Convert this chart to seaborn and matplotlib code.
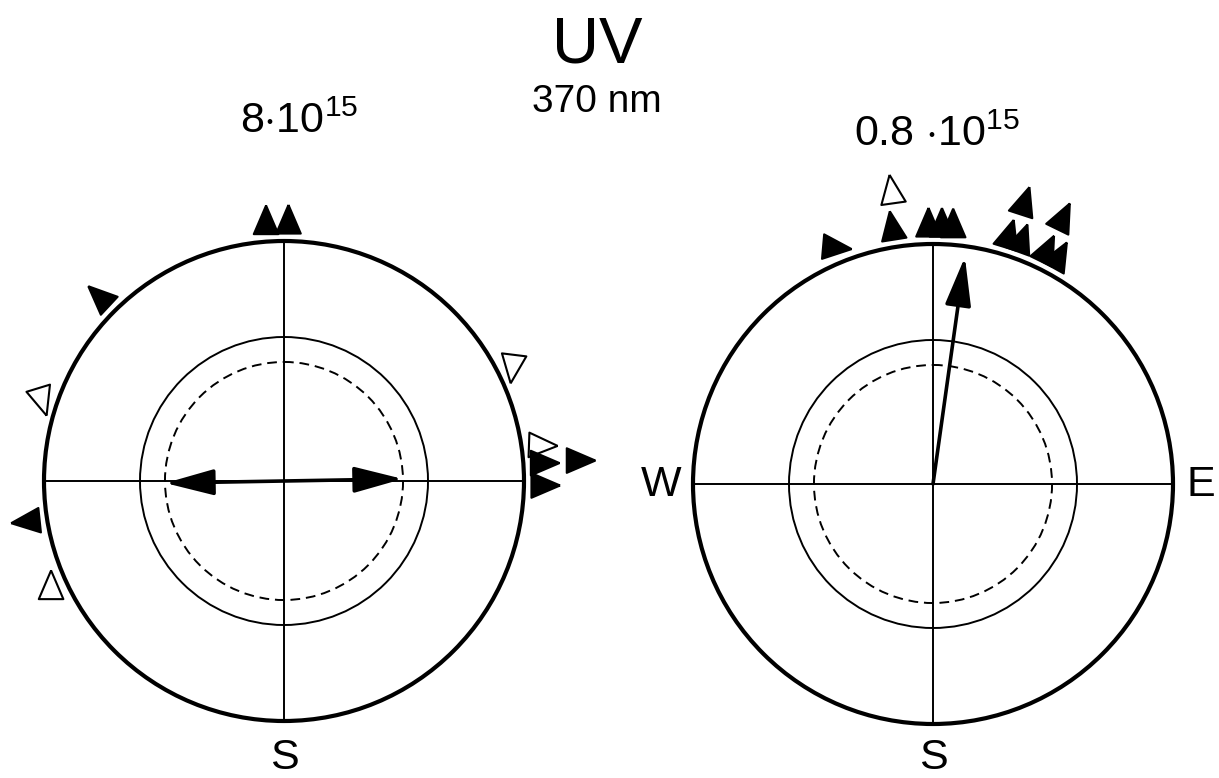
import numpy as np
import pandas as pd
import matplotlib.pyplot as plt
import seaborn as sns
from matplotlib.markers import MarkerStyle
from matplotlib.patches import Circle, FancyArrowPatch

# single headings, degrees clockwise from north
left_bearing = [356, 1, 315, 289, 261, 245, 63, 82, 86, 91, 86]
left_stack = [0, 0, 0, 0, 0, 0, 0, 0, 0, 0, 1]
left_kind = ['filled', 'filled', 'filled', 'open', 'filled', 'open',
             'open', 'open', 'filled', 'filled', 'filled']
left_point = [0, 0, 313, 163, 264, 0, 187, 92, 90, 90, 90]

right_bearing = [337, 352, 351, 359, 2, 4.5, 18, 26, 17, 20, 26, 29]
right_stack = [0, 1, 0, 0, 0, 0, 1, 1, 0, 0, 0, 0]
right_kind = ['filled', 'open'] + ['filled'] * 10
right_point = [95, 352, 351, 0, 0, 0, 18, 26, 17, 20, 26, 29]

# mean vectors: bearing, length relative to outer circle
left_mean = (89, 0.495)   # axial, drawn both ways
right_mean = (8, 0.955)

titles = [r'$\mathrm{8{\cdot}10^{15}}$', r'$\mathrm{0.8\ {\cdot}10^{15}}$']

sns.set_style('white')
plt.rcParams['font.family'] = ['Liberation Sans', 'DejaVu Sans']
plt.rcParams['text.color'] = 'black'
plt.rcParams['mathtext.fontset'] = 'custom'
plt.rcParams['mathtext.rm'] = 'Liberation Sans'
plt.rcParams['mathtext.it'] = 'Liberation Sans:italic'

R = 240
centers = [(284, 481), (933, 484)]

fig = plt.figure(figsize=(12.19, 7.78), dpi=100)
ax = fig.add_axes([0, 0, 1, 1])

# isosceles triangle pointing up, centroid at origin
tri = [(0, 18.7), (-12, -9.3), (12, -9.3), (0, 18.7)]


def polar_xy(c, b, r):
    b = np.radians(b)
    return c[0] + r * np.sin(b), c[1] - r * np.cos(b)


def draw_diagram(c, bearing, stack, kind, point, mean, axial):
    cx, cy = c
    ax.add_patch(Circle(c, R, fill=False, lw=3, ec='black'))
    ax.add_patch(Circle(c, 0.6 * R, fill=False, lw=1.4, ec='black'))
    ax.add_patch(Circle(c, 0.496 * R, fill=False, lw=1.4, ec='black',
                        ls=(0, (5, 3))))
    ax.plot([cx - R, cx + R], [cy, cy], color='black', lw=1.4)
    ax.plot([cx, cx], [cy - R, cy + R], color='black', lw=1.4)

    r = 257 + 36 * np.array(stack)
    xs, ys = polar_xy(c, np.array(bearing), r)
    df = pd.DataFrame({'x': xs, 'y': ys, 'kind': kind,
                       'mk': [f't{i}' for i in range(len(bearing))]})
    markers = {f't{i}': MarkerStyle(tri).rotated(deg=-p)
               for i, p in enumerate(point)}
    sns.scatterplot(data=df, x='x', y='y', hue='kind', style='mk',
                    markers=markers, palette={'filled': 'black', 'open': 'white'},
                    s=760, edgecolor='black', linewidth=1.5, legend=False,
                    ax=ax, zorder=5)

    b, L = mean
    tip = polar_xy(c, b, L * R)
    if axial:
        start = polar_xy(c, b + 180, L * R)
        style = '<|-|>,head_length=1.5,head_width=0.4'
    else:
        start = c
        style = '-|>,head_length=1.5,head_width=0.4'
    ax.add_patch(FancyArrowPatch(start, tip, arrowstyle=style, mutation_scale=20,
                                 lw=2.6, color='black', shrinkA=0, shrinkB=0,
                                 zorder=6))


draw_diagram(centers[0], left_bearing, left_stack, left_kind, left_point,
             left_mean, True)
draw_diagram(centers[1], right_bearing, right_stack, right_kind, right_point,
             right_mean, False)

ax.text(597, 62, 'UV', fontsize=47, ha='center', va='baseline')
ax.text(597, 112, '370 nm', fontsize=28, ha='center', va='baseline')
ax.text(299, 133, titles[0], fontsize=31, ha='center', va='baseline')
ax.text(937, 146, titles[1], fontsize=31, ha='center', va='baseline')

for cx, cy in centers:
    ax.text(cx, 769, 'S', fontsize=31, ha='center', va='baseline')
ax.text(661, 485, 'W', fontsize=31, ha='center', va='center')
ax.text(1187, 485, 'E', fontsize=31, ha='left', va='center')

ax.set_xlim(0, 1219)
ax.set_ylim(778, 0)
ax.axis('off')

fig.savefig('out.png', dpi=100)
